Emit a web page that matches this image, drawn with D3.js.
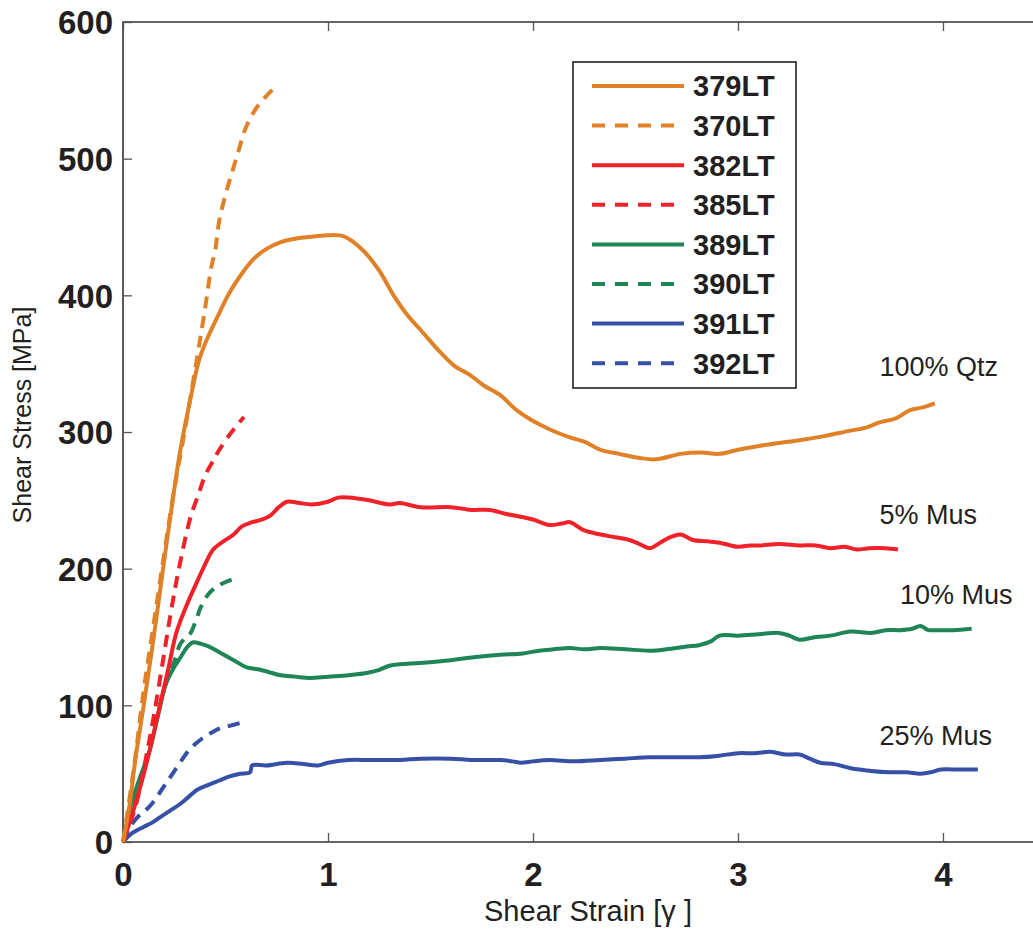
<!DOCTYPE html>
<html>
<head>
<meta charset="utf-8">
<script src="https://cdn.jsdelivr.net/npm/d3@7"></script>
<style>
  body { margin: 0; background: #fff; }
  text { font-family: "Liberation Sans", Arial, Helvetica, sans-serif; fill: #231f20; }
</style>
</head>
<body>
<svg id="chart" width="1033" height="929"></svg>
<script>
// sample names, in legend order
var samples = ["379LT", "370LT", "382LT", "385LT", "389LT", "390LT", "391LT", "392LT"];
var colors = ["#e08128", "#e08128", "#ee2228", "#ee2228", "#1f8456", "#1f8456", "#3550a6", "#3550a6"];
var dashed = [false, true, false, true, false, true, false, true];

// [shear strain, shear stress MPa]
var s379 = [[0,0],[0.03,25],[0.06,60],[0.1,99],[0.15,150],[0.2,205],[0.25,258],[0.28,287],[0.33,325],[0.37,352],[0.41,368],[0.46,384],[0.52,402],[0.58,416],[0.64,427],[0.7,434],[0.77,439],[0.86,442],[0.93,443],[1.0,444],[1.08,443],[1.17,433],[1.25,418],[1.32,400],[1.39,385],[1.45,375],[1.55,358],[1.62,348],[1.69,342],[1.76,334],[1.84,327],[1.92,316],[1.99,309],[2.08,302],[2.18,296],[2.25,293],[2.33,287],[2.42,284],[2.52,281],[2.6,280],[2.72,284],[2.82,285],[2.91,284],[3.0,287],[3.11,290],[3.2,292],[3.3,294],[3.42,297],[3.55,301],[3.62,303],[3.69,307],[3.77,310],[3.84,316],[3.9,318],[3.96,321]];
var s370 = [[0,0],[0.03,30],[0.06,62],[0.1,110],[0.15,160],[0.2,210],[0.25,258],[0.3,300],[0.36,353],[0.4,390],[0.43,420],[0.45,433],[0.47,455],[0.51,479],[0.54,494],[0.57,509],[0.6,523],[0.65,537],[0.7,546],[0.74,552]];
var s382 = [[0,0],[0.04,18],[0.08,38],[0.13,67],[0.18,100],[0.22,126],[0.26,153],[0.31,173],[0.36,190],[0.4,203],[0.44,214],[0.49,220],[0.54,225],[0.58,231],[0.63,234],[0.68,236],[0.72,239],[0.76,245],[0.8,249],[0.86,248],[0.92,247],[1.0,249],[1.05,252],[1.1,252],[1.2,250],[1.3,247],[1.35,248],[1.45,245],[1.6,245],[1.7,243],[1.79,243],[1.87,240],[1.94,238],[2.0,236],[2.08,232],[2.14,233],[2.18,234],[2.25,228],[2.33,225],[2.4,223],[2.47,221],[2.52,218],[2.57,215],[2.62,219],[2.67,223],[2.72,225],[2.78,221],[2.85,220],[2.91,219],[3.0,216],[3.06,217],[3.11,217],[3.2,218],[3.3,217],[3.38,217],[3.45,215],[3.52,216],[3.58,214],[3.64,215],[3.72,215],[3.78,214]];
var s385 = [[0,0],[0.04,16],[0.07,31],[0.11,60],[0.15,92],[0.19,128],[0.23,165],[0.27,198],[0.33,238],[0.37,255],[0.4,268],[0.44,279],[0.47,287],[0.53,300],[0.59,311]];
var s389 = [[0,0],[0.02,14],[0.04,28],[0.08,46],[0.13,67],[0.17,92],[0.21,116],[0.25,128],[0.28,135],[0.31,142],[0.34,146],[0.38,145],[0.42,143],[0.48,138],[0.54,133],[0.6,128],[0.67,126],[0.77,122],[0.84,121],[0.91,120],[1.0,121],[1.1,122],[1.2,124],[1.25,126],[1.3,129],[1.35,130],[1.45,131],[1.6,133],[1.7,135],[1.84,137],[1.95,138],[2.03,140],[2.1,141],[2.18,142],[2.25,141],[2.33,142],[2.45,141],[2.57,140],[2.65,141],[2.75,143],[2.81,144],[2.87,147],[2.91,151],[3.0,151],[3.1,152],[3.2,153],[3.25,151],[3.3,148],[3.38,150],[3.45,151],[3.55,154],[3.65,153],[3.72,155],[3.79,155],[3.85,156],[3.89,158],[3.93,155],[3.96,155],[4.05,155],[4.14,156]];
var s390 = [[0,0],[0.02,10],[0.05,30],[0.08,42],[0.1,52],[0.13,68],[0.15,82],[0.18,100],[0.2,112],[0.25,132],[0.28,145],[0.31,150],[0.33,153],[0.36,164],[0.38,172],[0.42,182],[0.47,188],[0.53,192]];
var s391 = [[0,0],[0.04,6],[0.1,11],[0.14,14],[0.18,18],[0.23,23],[0.28,28],[0.32,33],[0.36,38],[0.42,42],[0.47,45],[0.52,48],[0.57,50],[0.62,51],[0.63,56],[0.7,56],[0.8,58],[0.88,57],[0.95,56],[1.0,58],[1.1,60],[1.2,60],[1.35,60],[1.45,61],[1.6,61],[1.7,60],[1.84,60],[1.9,59],[1.94,58],[2.0,59],[2.08,60],[2.2,59],[2.33,60],[2.45,61],[2.57,62],[2.7,62],[2.81,62],[2.9,63],[3.0,65],[3.08,65],[3.16,66],[3.23,64],[3.3,64],[3.35,61],[3.4,58],[3.47,57],[3.55,54],[3.65,52],[3.74,51],[3.82,51],[3.89,50],[3.94,51],[3.99,53],[4.08,53],[4.17,53]];
var s392 = [[0,0],[0.03,10],[0.07,18],[0.1,22],[0.13,26],[0.17,34],[0.21,43],[0.26,54],[0.31,65],[0.34,70],[0.38,75],[0.42,79],[0.47,83],[0.52,85],[0.57,87]];
var series = [s379, s370, s382, s385, s389, s390, s391, s392];

// labels next to the curves
var notes = ["100% Qtz", "5% Mus", "10% Mus", "25% Mus"];
var noteAt = [[3.69, 341], [3.69, 233], [3.79, 174], [3.69, 71]];

var xTicks = [0, 1, 2, 3, 4];
var yTicks = [0, 100, 200, 300, 400, 500, 600];

var svg = d3.select("#chart");
// plot box (don't call it "top", that's window.top)
var pLeft = 123, pTop = 22, pBottom = 842, pRight = 1033;

var x = d3.scaleLinear().domain([0, 4]).range([pLeft, 943]);
var y = d3.scaleLinear().domain([0, 600]).range([pBottom, pTop]);

// frame (the right side is cut off in the original)
svg.append("path")
    .attr("d", "M" + pRight + "," + pTop + "H" + pLeft + "V" + pBottom + "H" + pRight)
    .attr("fill", "none")
    .attr("stroke", "#333")
    .attr("stroke-width", 1.6);

// inward ticks
var xAxis = svg.append("g").attr("transform", "translate(0," + pBottom + ")")
    .call(d3.axisBottom(x).tickValues(xTicks).tickSize(-9).tickPadding(18).tickFormat(d3.format("d")));
var xTop = svg.append("g").attr("transform", "translate(0," + pTop + ")")
    .call(d3.axisTop(x).tickValues(xTicks).tickSize(-9).tickFormat(""));
var yAxis = svg.append("g").attr("transform", "translate(" + pLeft + ",0)")
    .call(d3.axisLeft(y).tickValues(yTicks).tickSize(-9).tickPadding(10));

[xAxis, xTop, yAxis].forEach(function(g) {
    g.select(".domain").remove();
    g.selectAll(".tick line").attr("stroke", "#555").attr("stroke-width", 1.3);
});
xAxis.selectAll(".tick text").attr("dy", "0.78em");
yAxis.selectAll(".tick text").attr("dy", "0.36em");
svg.selectAll(".tick text")
    .style("font-family", "'Liberation Sans', Arial, sans-serif")
    .style("font-size", "33px")
    .style("font-weight", "bold")
    .attr("fill", "#231f20");

// axis titles
svg.append("text")
    .attr("x", 588).attr("y", 921)
    .attr("text-anchor", "middle")
    .style("font-size", "29px")
    .text("Shear Strain [γ ]");
svg.append("text")
    .attr("transform", "translate(31,415) rotate(-90)")
    .attr("text-anchor", "middle")
    .style("font-size", "25px")
    .text("Shear Stress [MPa]");

// curves, blue first so orange ends up on top
var line = d3.line()
    .x(function(d) { return x(d[0]); })
    .y(function(d) { return y(d[1]); })
    .curve(d3.curveCatmullRom.alpha(0.5));

var drawOrder = [6, 7, 4, 5, 2, 3, 0, 1];
drawOrder.forEach(function(i) {
    svg.append("path")
        .datum(series[i])
        .attr("d", line)
        .attr("fill", "none")
        .attr("stroke", colors[i])
        .attr("stroke-width", 4)
        .attr("stroke-linejoin", "round")
        .attr("stroke-dasharray", dashed[i] ? "12,8" : null);
});

// curve labels
svg.selectAll(".note")
    .data(notes)
    .enter().append("text")
    .attr("class", "note")
    .attr("x", function(d, i) { return x(noteAt[i][0]); })
    .attr("y", function(d, i) { return y(noteAt[i][1]); })
    .style("font-size", "27px")
    .text(function(d) { return d; });

// legend
var legend = svg.append("g").attr("transform", "translate(573,62)");
legend.append("rect")
    .attr("width", 223).attr("height", 326)
    .attr("fill", "#fff")
    .attr("stroke", "#222")
    .attr("stroke-width", 1.6);

var item = legend.selectAll(".item")
    .data(samples)
    .enter().append("g")
    .attr("class", "item")
    .attr("transform", function(d, i) { return "translate(0," + (24 + i * 39.6) + ")"; });
item.append("line")
    .attr("x1", 19)
    .attr("x2", function(d, i) { return dashed[i] ? 102 : 111; })
    .attr("stroke", function(d, i) { return colors[i]; })
    .attr("stroke-width", 4)
    .attr("stroke-dasharray", function(d, i) { return dashed[i] ? "13,10" : null; });
item.append("text")
    .attr("x", 120)
    .attr("dy", "0.36em")
    .style("font-size", "29px")
    .style("font-weight", "bold")
    .text(function(d) { return d; });
</script>
</body>
</html>
